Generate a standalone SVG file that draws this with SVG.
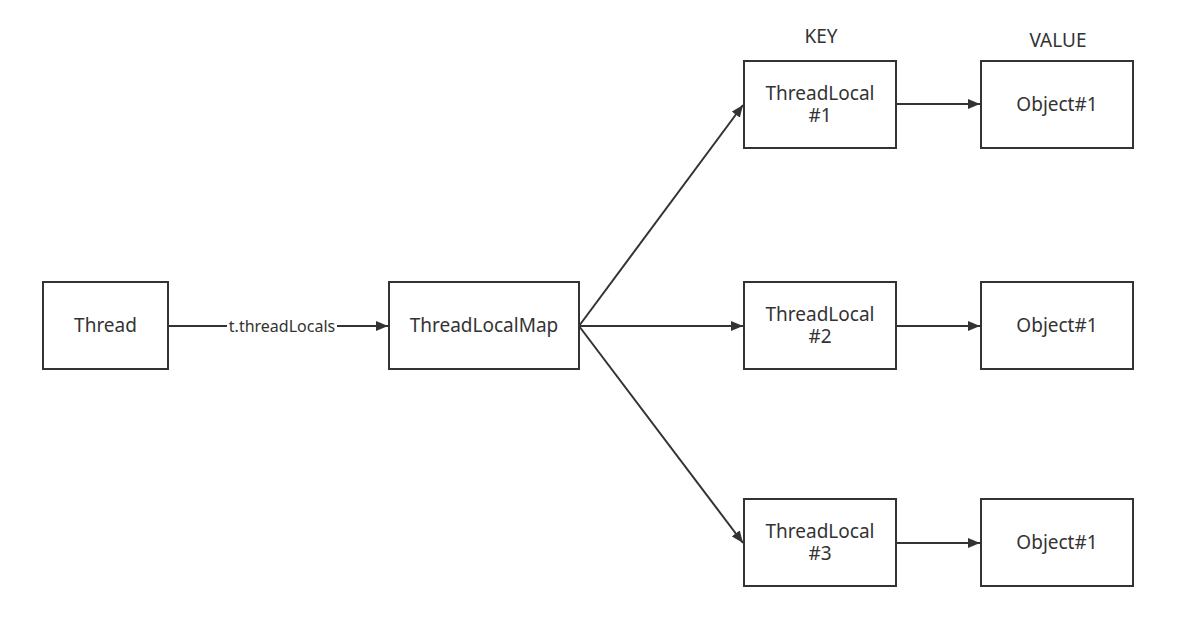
<svg xmlns="http://www.w3.org/2000/svg" width="1199" height="643" viewBox="0 0 1199 643">
<style>
.box{fill:#fff;stroke:#333;stroke-width:2}
.t{font-family:"Noto Sans","Open Sans",sans-serif;font-size:19px;fill:#333;text-anchor:middle;dominant-baseline:central}
.lbl{font-family:"Noto Sans","Open Sans",sans-serif;font-size:16px;fill:#333;text-anchor:middle;dominant-baseline:central}
.e{fill:none;stroke:#333;stroke-width:2;marker-end:url(#ah)}
</style>
<defs>
<marker id="ah" viewBox="0 0 12 10" refX="12" refY="5" markerWidth="12" markerHeight="10" markerUnits="userSpaceOnUse" orient="auto">
<path d="M0,0 L12,5 L0,10 Z" fill="#333"/>
</marker>
</defs>
<rect width="1199" height="643" fill="#fff"/>
<g id="connectors">
<path class="e" d="M168,326 L388,326"/>
<path class="e" d="M579,326 L743,105"/>
<path class="e" d="M579,326 L743,326"/>
<path class="e" d="M579,326 L743,543"/>
<path class="e" d="M896,104 L980,104"/>
<path class="e" d="M896,326 L980,326"/>
<path class="e" d="M896,543 L980,543"/>
<rect x="227" y="316" width="110" height="20" fill="#fff"/>
<text class="lbl" x="282" y="326">t.threadLocals</text>
</g>
<g id="key-label"><text class="t" x="821" y="36">KEY</text></g>
<g id="value-label"><text class="t" x="1058" y="40">VALUE</text></g>
<g id="thread"><rect class="box" x="43" y="282" width="125" height="87"/><text class="t" x="105.5" y="325">Thread</text></g>
<g id="map"><rect class="box" x="389" y="282" width="190" height="87"/><text class="t" x="484" y="325">ThreadLocalMap</text></g>
<g id="tl1"><rect class="box" x="744" y="61" width="152" height="87"/><text class="t" x="820" y="93">ThreadLocal<tspan x="820" dy="22">#1</tspan></text></g>
<g id="tl2"><rect class="box" x="744" y="282" width="152" height="87"/><text class="t" x="820" y="314">ThreadLocal<tspan x="820" dy="22">#2</tspan></text></g>
<g id="tl3"><rect class="box" x="744" y="499" width="152" height="87"/><text class="t" x="820" y="531">ThreadLocal<tspan x="820" dy="22">#3</tspan></text></g>
<g id="obj1"><rect class="box" x="981" y="61" width="152" height="87"/><text class="t" x="1057" y="104">Object#1</text></g>
<g id="obj2"><rect class="box" x="981" y="282" width="152" height="87"/><text class="t" x="1057" y="325">Object#1</text></g>
<g id="obj3"><rect class="box" x="981" y="499" width="152" height="87"/><text class="t" x="1057" y="542">Object#1</text></g>
</svg>
